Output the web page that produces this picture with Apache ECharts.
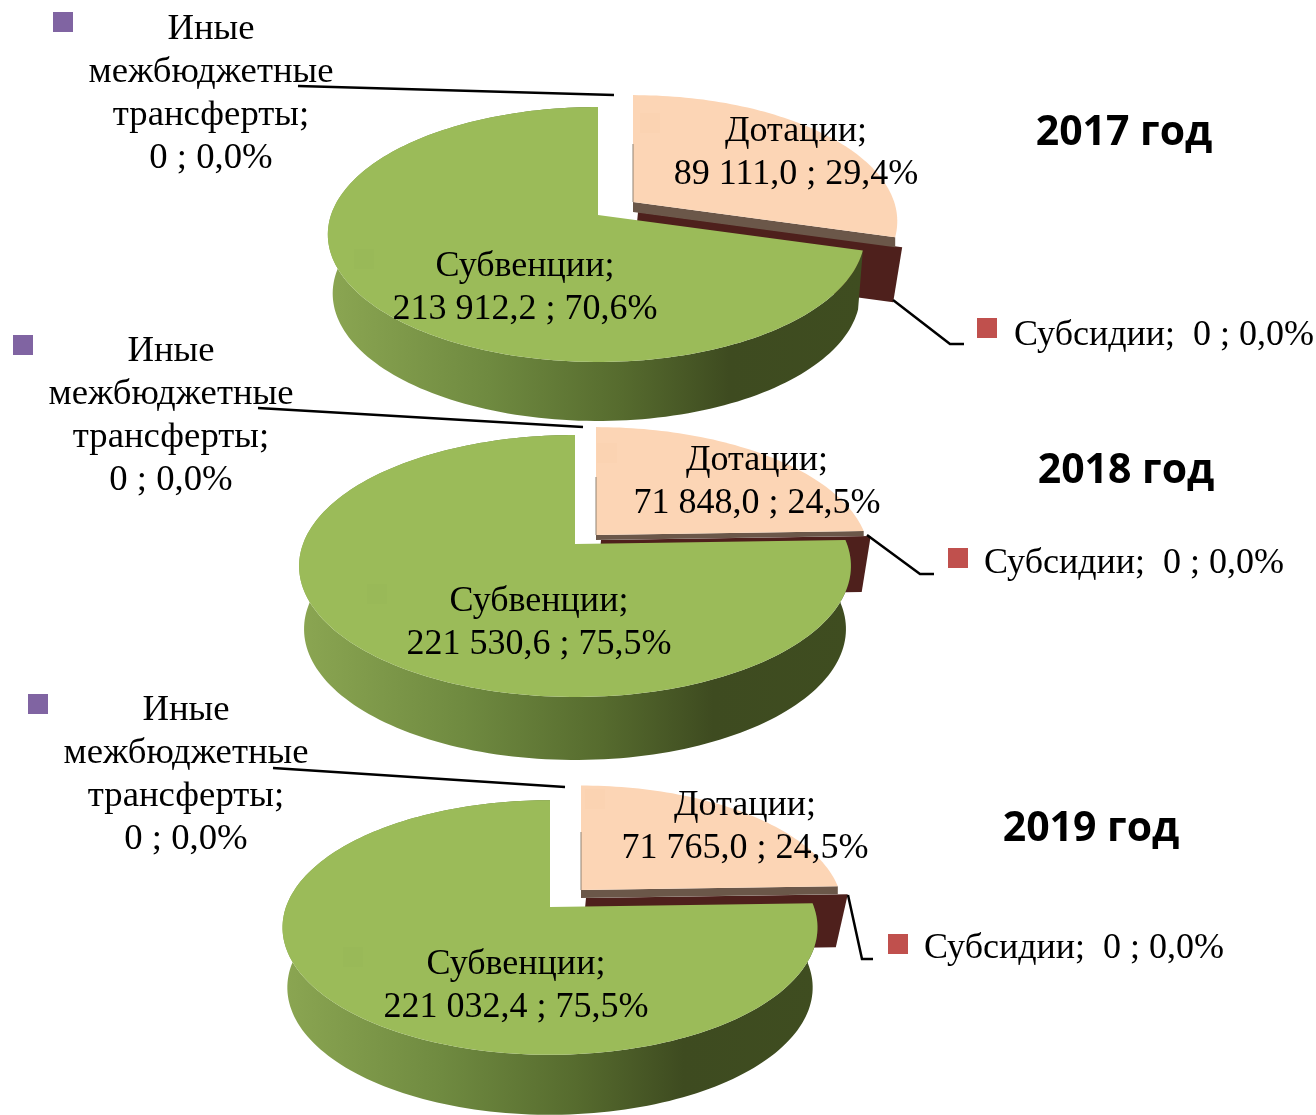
<!DOCTYPE html>
<html>
<head>
<meta charset="utf-8">
<style>
  html, body { margin: 0; background: #fff; }
  #chart { width: 1316px; height: 1115px; }
</style>
<script src="https://cdn.jsdelivr.net/npm/echarts@6/dist/echarts.min.js"></script>
</head>
<body>
<div id="chart"></div>
<script>
const years = ['2017 год', '2018 год', '2019 год']
const dotacii = [89111.0, 71848.0, 71765.0]
const subsidii = [0, 0, 0]
const inye = [0, 0, 0]
const subvencii = [213912.2, 221530.6, 221032.4]

const nameDotacii = 'Дотации'
const nameSubsidii = 'Субсидии'
const nameInye = 'Иные\nмежбюджетные\nтрансферты'
const nameSubvencii = 'Субвенции'

// placement of each 3d pie: the pie is a circle seen in perspective (k)
const layouts = [
  {
    cx: 598, cy: 215, A: 267, B: 124.5, k: 0.153, rs: 0.988, ps: 0.99, depth: 59, shift: [35, -13], strip: 10, blockX: 7, blockH: 65,
    title: [1124, 133], dot: [796, 153], sub: [525, 288], other: [211, 94], otherKey: [53, 12],
    otherLine: [[298, 86], [614, 95]], subsLine: [[893, 300], [950, 344], [964, 344]],
    subsKey: [977, 318], subsText: [1014, 336], dotKey: [640, 113], subKey: [354, 249]
  },
  {
    cx: 575, cy: 544, A: 272, B: 127.3, k: 0.168, rs: 1, ps: 0.99, depth: 63, shift: [21, -9], strip: 5, blockX: 7, blockH: 61,
    title: [1126, 471], dot: [757, 482], sub: [539, 623], other: [171, 416], otherKey: [13, 335],
    otherLine: [[258, 408], [583, 427]], subsLine: [[867, 535], [920, 574], [934, 574]],
    subsKey: [948, 548], subsText: [984, 564], dotKey: [597, 443], subKey: [367, 584]
  },
  {
    cx: 550, cy: 907, A: 264, B: 124, k: 0.161, rs: 1, ps: 0.978, depth: 60, shift: [31, -17], strip: 8, blockX: 10, blockH: 61,
    title: [1091, 829], dot: [745, 827], sub: [516, 986], other: [186, 775], otherKey: [28, 694],
    otherLine: [[273, 768], [565, 787]], subsLine: [[848, 895], [862, 959], [873, 959]],
    subsKey: [888, 934], subsText: [924, 949], dotKey: [585, 789], subKey: [343, 947]
  }
]

const serif = '"Liberation Serif", "Times New Roman", serif'
const textFont = '36px ' + serif
const otherFont = '36.7px ' + serif
const titleFont = 'bold 41px "Open Sans", sans-serif'

function fmtValue(v) {
  if (v === 0) return '0'
  const parts = v.toFixed(1).replace('.', ',').split(',')
  const head = parts[0].slice(0, -3)
  const tail = parts[0].slice(-3)
  return head + ' ' + tail + ',' + parts[1]
}

function fmtShare(v, total) {
  return (v / total * 100).toFixed(1).replace('.', ',') + '%'
}

function proj(l, theta) {
  const u = Math.sin(theta)
  const v = -Math.cos(theta)
  const d = 1 - l.k * v
  const ox = l.A * u / d
  return [l.cx + (ox > 0 ? ox * l.rs : ox), l.cy + l.B * v / d]
}

function arc(l, from, to) {
  const pts = []
  const n = Math.ceil(Math.abs(to - from) / (Math.PI / 120))
  for (let i = 0; i <= n; i++) {
    pts.push(proj(l, from + (to - from) * i / n))
  }
  return pts
}

function poly(points, fill) {
  return { type: 'polygon', shape: { points: points }, style: { fill: fill } }
}

function txt(x, y, text, font, align) {
  return {
    type: 'text',
    style: {
      x: x, y: y, text: text, font: font, fill: '#000',
      align: align || 'center', verticalAlign: 'middle', lineHeight: 43
    }
  }
}

function leader(points) {
  return { type: 'polyline', shape: { points: points }, style: { stroke: '#000', lineWidth: 2.5, fill: null } }
}

function square(pos, color) {
  return { type: 'rect', shape: { x: pos[0], y: pos[1], width: 20, height: 20 }, style: { fill: color } }
}

const wallFill = new echarts.graphic.LinearGradient(0, 0, 1, 0, [
  { offset: 0, color: '#8ba652' },
  { offset: 0.3, color: '#6f8a40' },
  { offset: 0.55, color: '#566b2e' },
  { offset: 0.75, color: '#3e4b20' },
  { offset: 1, color: '#3f4d20' }
])

function renderPie(l, year, params, api) {
  const dot = api.value(0)
  const subs = api.value(1)
  const other = api.value(2)
  const subv = api.value(3)
  const total = dot + subs + other + subv
  const cut = (dot + subs + other) / total * Math.PI * 2
  const full = Math.PI * 2
  const dx = l.shift[0]
  const dy = l.shift[1]

  const apex = [l.cx, l.cy]
  const greenArc = arc(l, cut, full)
  const wallBottom = greenArc.map(p => [l.cx + (p[0] - l.cx) * 0.982, p[1] + l.depth])
  const wall = greenArc.concat(wallBottom.slice().reverse())

  const pApex = [l.cx + dx, l.cy + dy]
  const peachArc = arc(l, 0, cut).map(p => [
    pApex[0] + (p[0] - l.cx) * l.ps,
    pApex[1] + (p[1] - l.cy) * l.ps
  ])
  const pTip = peachArc[peachArc.length - 1]

  const children = [
    // inner cut of the moved slice
    poly([
      [pApex[0] + 5, pApex[1] + l.strip],
      [pTip[0] + l.blockX, pTip[1] + l.strip],
      [pTip[0] - 2, pTip[1] + l.blockH],
      [pApex[0], pApex[1] + l.blockH]
    ], '#4e201c'),
    poly([
      pApex, pTip,
      [pTip[0], pTip[1] + l.strip],
      [pApex[0], pApex[1] + l.strip]
    ], '#6b5749'),
    poly([pApex].concat(peachArc), '#fcd5b5'),
    {
      type: 'line',
      shape: { x1: pApex[0], y1: pApex[1], x2: pApex[0], y2: pApex[1] - 58 },
      style: { stroke: '#8f8273', lineWidth: 1 }
    },
    poly(wall, wallFill),
    poly([apex].concat(greenArc), '#9bbb59'),
    square(l.dotKey, '#fbd3b2'),
    square(l.subKey, '#99b958'),
    leader(l.otherLine),
    leader(l.subsLine),
    square(l.otherKey, '#8064a2'),
    square(l.subsKey, '#c0504d'),
    txt(l.dot[0], l.dot[1], nameDotacii + ';\n' + fmtValue(dot) + ' ; ' + fmtShare(dot, total), textFont),
    txt(l.sub[0], l.sub[1], nameSubvencii + ';\n' + fmtValue(subv) + ' ; ' + fmtShare(subv, total), textFont),
    txt(l.other[0], l.other[1], nameInye + ';\n' + fmtValue(other) + ' ; ' + fmtShare(other, total), otherFont),
    txt(l.subsText[0], l.subsText[1], nameSubsidii + ';  ' + fmtValue(subs) + ' ; ' + fmtShare(subs, total), textFont, 'left'),
    txt(l.title[0], l.title[1], year, titleFont)
  ]
  return { type: 'group', children: children }
}

const chart = echarts.init(document.getElementById('chart'))
chart.setOption({
  animation: false,
  backgroundColor: '#fff',
  series: years.map((year, i) => ({
    type: 'custom',
    coordinateSystem: 'none',
    name: year,
    z: i + 1,
    silent: true,
    data: [[dotacii[i], subsidii[i], inye[i], subvencii[i]]],
    renderItem: (params, api) => renderPie(layouts[i], year, params, api)
  }))
})
</script>
</body>
</html>
